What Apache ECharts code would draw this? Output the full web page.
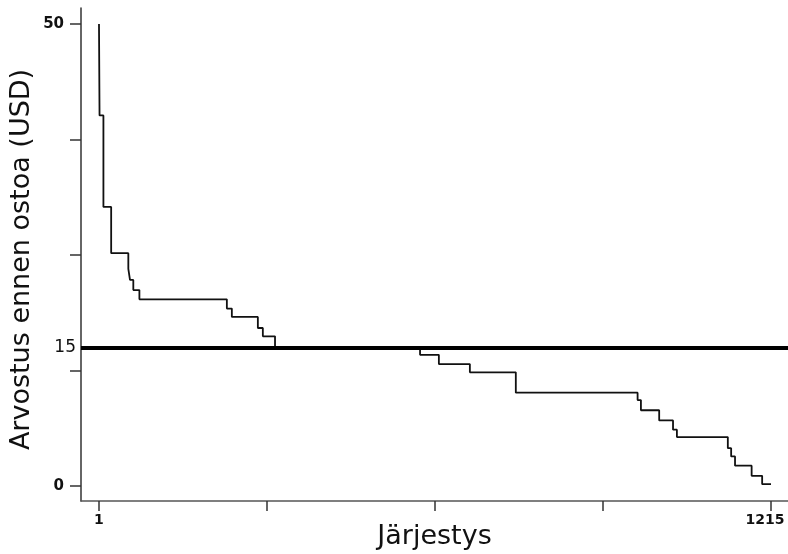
<!DOCTYPE html>
<html>
<head>
<meta charset="utf-8">
<script src="https://cdn.jsdelivr.net/npm/echarts@6/dist/echarts.min.js"></script>
<style>
  html, body { margin: 0; padding: 0; background: #fff; }
  #chart { width: 788px; height: 554px; }
</style>
</head>
<body>
<div id="chart"></div>
<script>
// ranked values (step function), start of each flat segment
const rankX = [1, 2, 9, 23, 54, 57, 63, 74, 232, 241, 283, 288, 297, 319, 581, 615, 671, 754, 974, 980, 1013, 1038, 1045, 1137, 1143, 1150, 1180, 1199, 1215];
const valueY = [50, 40.1, 30.2, 25.2, 23.5, 22.3, 21.2, 20.2, 19.2, 18.3, 18.3, 17.1, 16.2, 15, 14.2, 13.2, 12.3, 10.1, 9.3, 8.2, 7.1, 6.1, 5.3, 4.1, 3.2, 2.2, 1.1, 0.2, 0.2];

const threshold = 15;
const xTicks = [1, 304.5, 608, 911.5, 1215];
const xLabels = [1, 1215];
const yTicks = [0, 12.5, 25, 37.5, 50];
const yLabels = [0, 50];

const chart = echarts.init(document.getElementById('chart'));

const axisColor = '#333';

const option = {
  animation: false,
  grid: { left: 81, right: 0, top: 8, bottom: 53, containLabel: false, outerBoundsMode: 'none' },
  xAxis: {
    type: 'value',
    min: -31.5,
    max: 1245.7,
    name: 'Järjestys',
    nameLocation: 'middle',
    nameGap: 22,
    nameMoveOverlap: false,
    nameTextStyle: { fontFamily: 'DejaVu Sans', fontSize: 27, color: '#111' },
    axisLine: { show: true, onZero: false, lineStyle: { color: '#555', width: 1.5 } },
    axisTick: { show: true, length: 10, customValues: xTicks, lineStyle: { color: axisColor, width: 1.5 } },
    axisLabel: {
      customValues: xLabels,
      formatter: v => (v === 1215 ? '{last|' + v + '}' : String(v)),
      margin: 12,
      fontFamily: 'DejaVu Sans',
      fontWeight: 'bold',
      fontSize: 14,
      color: '#111',
      rich: {
        last: { fontFamily: 'DejaVu Sans', fontWeight: 'bold', fontSize: 14, color: '#111', padding: [0, 12, 0, 0] }
      }
    },
    splitLine: { show: false }
  },
  yAxis: {
    type: 'value',
    min: -1.62,
    max: 51.73,
    name: 'Arvostus ennen ostoa (USD)',
    nameLocation: 'middle',
    nameGap: 46,
    nameMoveOverlap: false,
    nameTextStyle: { fontFamily: 'DejaVu Sans', fontSize: 27, color: '#111', padding: [0, 10, 0, 0] },
    axisLine: { show: true, onZero: false, lineStyle: { color: axisColor, width: 1.5 } },
    axisTick: { show: true, length: 11, customValues: yTicks, lineStyle: { color: axisColor, width: 1.5 } },
    axisLabel: {
      customValues: yLabels,
      formatter: v => String(v),
      margin: 17,
      fontFamily: 'DejaVu Sans',
      fontWeight: 'bold',
      fontSize: 15,
      color: '#111'
    },
    splitLine: { show: false }
  },
  series: [
    {
      type: 'line',
      step: 'end',
      showSymbol: false,
      data: rankX.map((x, i) => [x, valueY[i]]),
      lineStyle: { color: '#111', width: 1.8 },
      markLine: {
        silent: true,
        symbol: 'none',
        data: [{ yAxis: threshold }],
        lineStyle: { color: '#000', width: 4, type: 'solid' },
        label: {
          show: true,
          position: 'start',
          formatter: String(threshold),
          distance: 5,
          fontFamily: 'DejaVu Sans',
          fontSize: 17,
          color: '#111'
        }
      }
    }
  ]
};

chart.setOption(option);
</script>
</body>
</html>
